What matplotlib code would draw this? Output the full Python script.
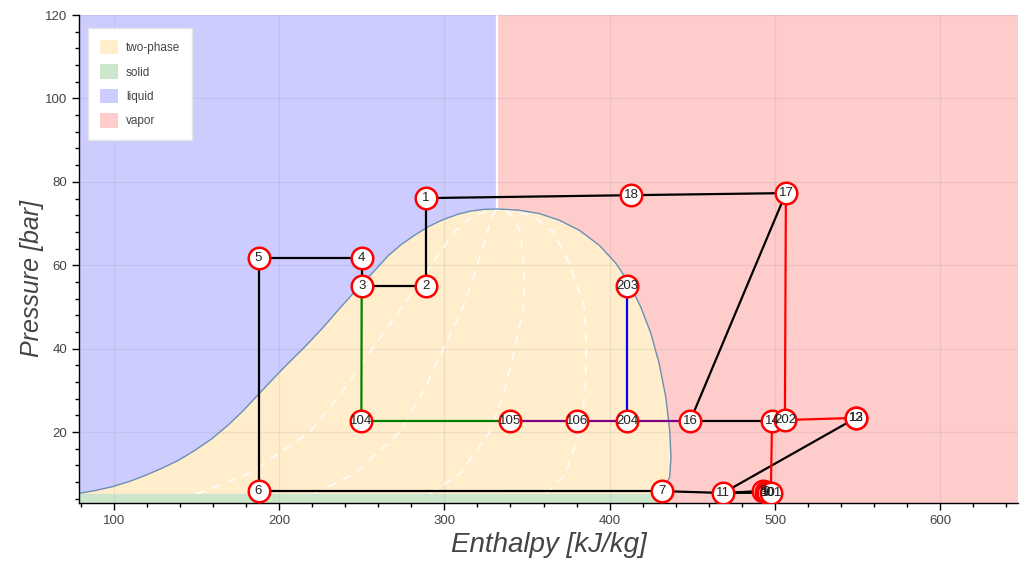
import matplotlib
matplotlib.use("Agg")
import matplotlib.pyplot as plt
from matplotlib.patches import Patch, Rectangle, Polygon
from matplotlib.ticker import MultipleLocator

# ---------------- data ----------------
# saturation dome (enthalpy kJ/kg, pressure bar)
liq_h = [79, 89, 99, 109, 119, 129, 139, 149, 159, 169, 178, 187, 196, 205, 215, 226, 237,
         250, 258, 266, 274, 282, 290, 299, 308, 316, 324, 332]
liq_p = [5.3, 6.0, 6.9, 8.1, 9.6, 11.3, 13.2, 15.6, 18.3, 21.6, 25.0, 28.8, 32.6, 36.3, 40.2,
         44.8, 49.8, 55.5, 58.8, 62.3, 65.0, 67.2, 69.2, 70.9, 72.2, 73.0, 73.4, 73.5]
vap_h = [332, 345.3, 357.4, 369.5, 381.6, 393.7, 403.7, 411.8, 418.8, 424.9, 429.9, 433.9,
         436.3, 437.1, 436.3, 433.9, 431]
vap_p = [73.5, 73.2, 72.4, 70.8, 68.4, 64.8, 60.5, 55.7, 50.0, 43.7, 36.5, 28.5,
         20.5, 14.1, 9.3, 6.9, 5.18]
h_crit = 332
p_triple = 5.18
h_solid_end = 430

# constant-quality lines (white dashed), read at these pressures
q_p = [5.18, 10, 20, 30, 40, 50, 60, 68, 72, 73.5]
q20_h = [150.4, 181.8, 218.5, 238.8, 256.2, 274.6, 292, 306, 317.6, 332]
q40_h = [220.8, 245.6, 273, 287.6, 299.4, 311.4, 320, 326, 329.2, 332]
q60_h = [291.2, 309.4, 327.5, 336.4, 342.6, 348, 348, 346, 340.8, 332]
q80_h = [361.6, 373.2, 382, 385.2, 385.8, 384.8, 376, 366, 352.4, 332]

# state points
pt_labels = ['1', '2', '3', '4', '5', '6', '7', '8', '9', '10', '11', '12', '13',
             '14', '16', '17', '18', '104', '105', '106', '202', '203', '204', '301']
pt_h = [289, 289, 250, 250, 187.6, 187.6, 431.7, 493.0, 494.5, 496.0, 468.6, 549, 549,
        498.2, 448.6, 506.6, 413, 249.8, 339.9, 380.4, 506, 410.6, 410.6, 497.5]
pt_p = [76.1, 55.0, 55.0, 61.7, 61.7, 5.85, 5.85, 5.9, 5.7, 5.5, 5.4, 23.4, 23.4,
        22.6, 22.6, 77.3, 76.8, 22.6, 22.6, 22.6, 22.9, 55.0, 22.6, 5.4]

# connections: (from, to, colour)
links = [('1', '18', 'black'), ('18', '17', 'black'), ('17', '16', 'black'),
         ('16', '14', 'black'), ('13', '11', 'black'), ('7', '11', 'black'),
         ('6', '7', 'black'), ('5', '6', 'black'), ('4', '5', 'black'),
         ('3', '4', 'black'), ('2', '3', 'black'), ('1', '2', 'black'),
         ('11', '8', 'black'), ('11', '9', 'black'), ('11', '10', 'black'),
         ('3', '104', 'green'), ('104', '105', 'green'),
         ('105', '106', 'purple'), ('106', '204', 'purple'), ('204', '16', 'purple'),
         ('203', '204', 'blue'),
         ('17', '202', 'red'), ('202', '13', 'red'), ('14', '301', 'red'), ('12', '13', 'red')]

legend_labels = ['two-phase', 'solid', 'liquid', 'vapor']
c_two = '#ffedcc'
c_solid = '#cce6cc'
c_liq = '#ccccff'
c_vap = '#ffcccc'

# ---------------- figure ----------------
plt.rcParams['font.family'] = ['Liberation Sans', 'DejaVu Sans']
fig = plt.figure(figsize=(10.21, 5.62), dpi=100)
ax = fig.add_axes([79 / 1021, 59 / 562, 939 / 1021, 488 / 562])
xmin, xmax, ymin, ymax = 79, 647, 3, 120
ax.set_xlim(xmin, xmax)
ax.set_ylim(ymin, ymax)

# regions
ax.add_patch(Rectangle((xmin, ymin), h_crit - xmin, ymax - ymin, facecolor=c_liq, edgecolor='none', zorder=0))
ax.add_patch(Rectangle((h_crit, ymin), xmax - h_crit, ymax - ymin, facecolor=c_vap, edgecolor='none', zorder=0))
dome = list(zip(liq_h, liq_p)) + list(zip(vap_h[1:], vap_p[1:])) + [(liq_h[0], p_triple)]
ax.add_patch(Polygon(dome, closed=True, facecolor=c_two, edgecolor='none', zorder=0.5))
ax.add_patch(Rectangle((xmin, ymin), h_solid_end - xmin, p_triple - ymin, facecolor=c_solid, edgecolor='none', zorder=0.6))
ax.plot([h_crit, h_crit], [liq_p[-1], ymax], color='white', lw=1.6, zorder=0.7)

# grid
for gx in range(100, 700, 100):
    ax.axvline(gx, color='#808080', alpha=0.13, lw=1, zorder=0.8)
for gy in range(20, 121, 20):
    ax.axhline(gy, color='#808080', alpha=0.13, lw=1, zorder=0.8)

# quality lines
for qh in (q20_h, q40_h, q60_h, q80_h):
    ax.plot(qh, q_p, color='white', lw=1.3, ls=(0, (5, 4)), alpha=0.85, zorder=0.9)

# dome outline
ax.plot(liq_h + vap_h[1:], liq_p + vap_p[1:], color='#6a8fb5', lw=1.0, zorder=1)

# connections
idx = {l: i for i, l in enumerate(pt_labels)}
for a, b, c in links:
    ia, ib = idx[a], idx[b]
    ax.plot([pt_h[ia], pt_h[ib]], [pt_p[ia], pt_p[ib]], color=c, lw=1.6, zorder=2)

# points
ax.plot(pt_h, pt_p, ls='none', marker='o', ms=15.5, mfc='white', mec='red', mew=1.8, zorder=3)
for l, h, p in zip(pt_labels, pt_h, pt_p):
    ax.text(h, p, l, ha='center', va='center', fontsize=9.5, color='#222222', zorder=4)

# legend
handles = [Patch(facecolor=c, edgecolor='none') for c in (c_two, c_solid, c_liq, c_vap)]
leg = ax.legend(handles, legend_labels, loc='upper left', bbox_to_anchor=(0.0096, 0.973),
                fontsize=8.5, frameon=True, fancybox=False, borderpad=1.0, labelspacing=0.85,
                handlelength=1.5, handleheight=1.5, handletextpad=0.7, borderaxespad=0)
leg.get_frame().set_facecolor('white')
leg.get_frame().set_edgecolor('#e5e5e5')
leg.get_frame().set_alpha(1)
for t in leg.get_texts():
    t.set_color('#444444')
leg.set_zorder(5)

# axes styling
for s in ('top', 'right'):
    ax.spines[s].set_visible(False)
for s in ('left', 'bottom'):
    ax.spines[s].set_color('black')
    ax.spines[s].set_linewidth(1)
ax.xaxis.set_major_locator(MultipleLocator(100))
ax.xaxis.set_minor_locator(MultipleLocator(20))
ax.yaxis.set_major_locator(MultipleLocator(20))
ax.yaxis.set_minor_locator(MultipleLocator(4))
ax.tick_params(which='major', direction='out', length=5, width=1, colors='black', labelcolor='#444444', labelsize=9.5)
ax.tick_params(which='minor', direction='out', length=3, width=1, colors='black')
ax.set_xlabel('Enthalpy [kJ/kg]', fontsize=20, style='italic', color='#444444', labelpad=4)
ax.set_ylabel('Pressure [bar]', fontsize=18, style='italic', color='#444444')
ax.yaxis.set_label_coords(-0.037, 0.46)

fig.savefig('out.png', dpi=100)
